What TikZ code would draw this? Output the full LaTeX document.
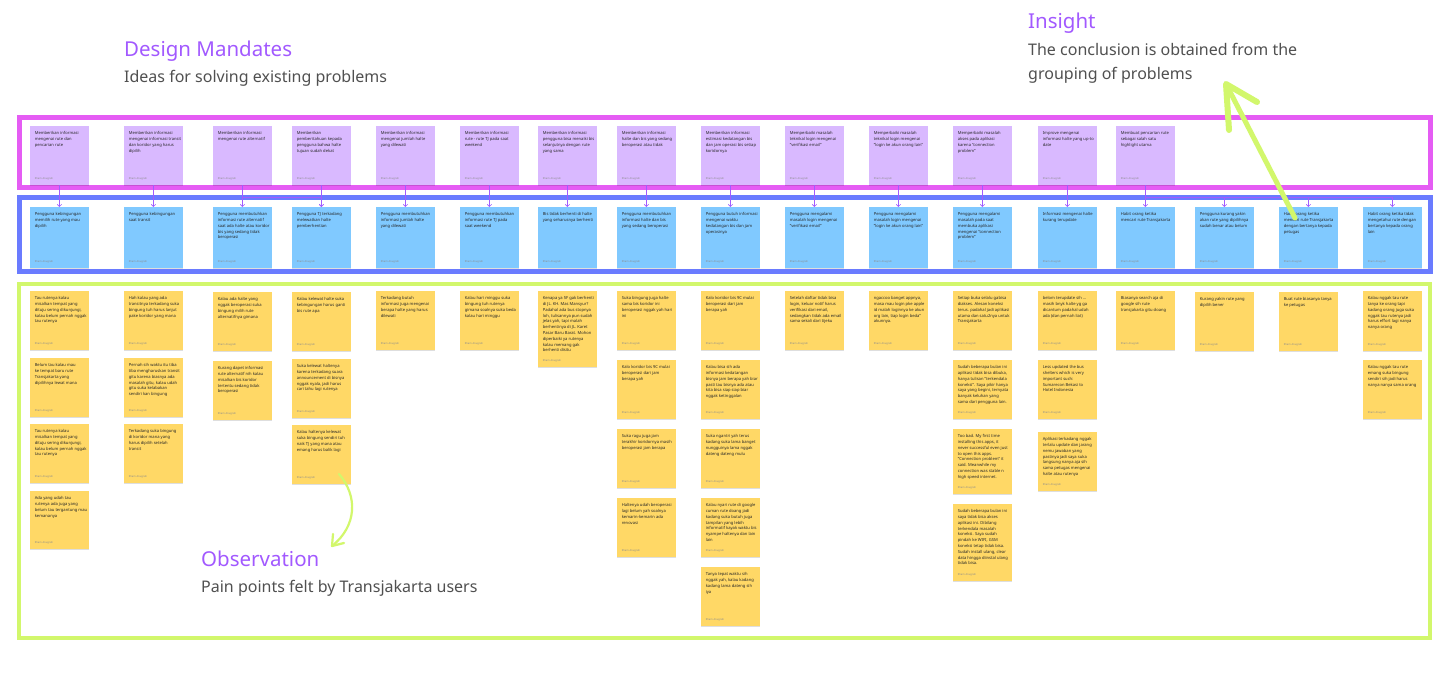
\documentclass[tikz,border=0pt]{standalone}
\usepackage{fontspec}
\setmainfont{Noto Sans}
\usetikzlibrary{arrows.meta,shadows,calc}
\definecolor{magcol}{HTML}{E55CF4}
\definecolor{bluecol}{HTML}{6A7BFF}
\definecolor{limecol}{HTML}{D2F76C}
\definecolor{pfill}{HTML}{D9B9FF}
\definecolor{bfill}{HTML}{80C9FF}
\definecolor{yfill}{HTML}{FFD866}
\definecolor{titlecol}{HTML}{A259FF}
\definecolor{subcol}{HTML}{505050}
\definecolor{conncol}{HTML}{A05CFF}
\tikzset{
  note/.style={draw=none, inner sep=0pt, minimum width=58.5pt, anchor=north west,
    drop shadow={shadow xshift=0pt, shadow yshift=-0.7pt, opacity=0.13, fill=black}},
  pnote/.style={note, fill=pfill},
  bnote/.style={note, fill=bfill},
  ynote/.style={note, fill=yfill},
  notetext/.style={inner sep=0pt, align=left, font=\fontsize{4.1}{5.8}\selectfont, text=black!85, anchor=north west},
  noteauthor/.style={inner sep=0pt, font=\fontsize{2.6}{3}\selectfont, text=black!45, anchor=west},
  conn/.style={draw=conncol, line width=0.6pt, -{Straight Barb[length=2.2pt,width=4.4pt]}},
  frame/.style={line width=5pt},
  title/.style={font=\bfseries\fontsize{20.5}{24}\selectfont, text=titlecol, anchor=base west, inner sep=0pt},
  sub/.style={font=\fontsize{16}{20}\selectfont, text=subcol, anchor=base west, inner sep=0pt},
  lime/.style={draw=limecol, line cap=round, line join=round},
}
% #1 name, #2 style, #3 x, #4 y, #5 height, #6 text
\newcommand\snote[6]{%
  \node[#2, minimum height=#5pt] (#1) at (#3,#4) {};
  \node[notetext] (#1t) at ([xshift=4.6pt,yshift=-5.4pt]#1.north west) {#6};
  \node[noteauthor] (#1a) at ([xshift=4.6pt,yshift=7pt]#1.south west) {Ilham Anugrah};
}
\begin{document}
\begin{tikzpicture}[x=1pt,y=-1pt]
\useasboundingbox (0,0) rectangle (1440,674);
\fill[white] (0,0) rectangle (1440,674);

% headings
\node[title] (dmt) at (124,57) {Design Mandates};
\node[sub] (dms) at (124,83) {Ideas for solving existing problems};
\node[title] (int) at (1028,29) {Insight};
\node[sub] (ins1) at (1028,56) {The conclusion is obtained from the};
\node[sub] (ins2) at (1028,80) {grouping of problems};
\node[title] (obt) at (201,566) {Observation};
\node[sub] (obs) at (201,592) {Pain points felt by Transjakarta users};

% frames
\draw[frame, magcol] (19,118) rectangle (1430,187);
\draw[frame, bluecol] (19,197) rectangle (1430,271);
\draw[line width=4pt, limecol] (19,284) rectangle (1430,638);

% purple notes
\snote{p1}{pnote}{30}{126}{59}{Memberikan informasi\\mengenai rute dan\\pencarian rute}
\snote{p2}{pnote}{124}{126}{59}{Memberikan informasi\\mengenai informasi transit\\dan koridor yang harus\\dipilih}
\snote{p3}{pnote}{213}{126}{59}{Memberikan informasi\\mengenai rute alternatif}
\snote{p4}{pnote}{292}{126}{59}{Memberikan\\pemberitahuan kepada\\pengguna bahwa halte\\tujuan sudah dekat}
\snote{p5}{pnote}{376}{126}{59}{Memberikan informasi\\mengenai jumlah halte\\yang dilewati}
\snote{p6}{pnote}{460}{126}{59}{Memberikan informasi\\rute - rute TJ pada saat\\weekend}
\snote{p7}{pnote}{538}{126}{59}{Memberikan informasi\\pengguna bisa menaiki bis\\selanjutnya dengan rute\\yang sama}
\snote{p8}{pnote}{617}{126}{59}{Memberikan informasi\\halte dan bis yang sedang\\beroperasi atau tidak}
\snote{p9}{pnote}{701}{126}{59}{Memberikan informasi\\estimasi kedatangan bis\\dan jam operasi bis setiap\\koridornya}
\snote{p10}{pnote}{785}{126}{59}{Memperbaiki masalah\\teknikal login mengenai\\"verifikasi email"}
\snote{p11}{pnote}{869}{126}{59}{Memperbaiki masalah\\teknikal login mengenai\\"login ke akun orang lain"}
\snote{p12}{pnote}{953}{126}{59}{Memperbaiki masalah\\akses pada aplikasi\\karena "connection\\problem"}
\snote{p13}{pnote}{1038}{126}{59}{Improve mengenai\\informasi halte yang up-to\\date}
\snote{p14}{pnote}{1116}{126}{59}{Membuat pencarian rute\\sebagai salah satu\\highlight utama}

% blue notes
\snote{b1}{bnote}{30}{207}{61}{Pengguna kebingungan\\memilih rute yang mau\\dipilih}
\snote{b2}{bnote}{124}{207}{61}{Pengguna kebingungan\\saat transit}
\snote{b3}{bnote}{213}{207}{61}{Pengguna membutuhkan\\informasi rute alternatif\\saat ada halte atau koridor\\bis yang sedang tidak\\beroperasi}
\snote{b4}{bnote}{292}{207}{61}{Pengguna TJ terkadang\\melewatkan halte\\pemberhentian}
\snote{b5}{bnote}{376}{207}{61}{Pengguna membutuhkan\\informasi jumlah halte\\yang dilewati}
\snote{b6}{bnote}{460}{207}{61}{Pengguna membutuhkan\\informasi rute TJ pada\\saat weekend}
\snote{b7}{bnote}{538}{207}{61}{Bis tidak berhenti di halte\\yang seharusnya berhenti}
\snote{b8}{bnote}{617}{207}{61}{Pengguna membutuhkan\\informasi halte dan bis\\yang sedang beroperasi}
\snote{b9}{bnote}{701}{207}{61}{Pengguna butuh informasi\\mengenai waktu\\kedatangan bis dan jam\\operasinya}
\snote{b10}{bnote}{785}{207}{61}{Pengguna mengalami\\masalah login mengenai\\"verifikasi email"}
\snote{b11}{bnote}{869}{207}{61}{Pengguna mengalami\\masalah login mengenai\\"login ke akun orang lain"}
\snote{b12}{bnote}{953}{207}{61}{Pengguna mengalami\\masalah pada saat\\membuka aplikasi\\mengenai "connection\\problem"}
\snote{b13}{bnote}{1038}{207}{61}{Informasi mengenai halte\\kurang terupdate}
\snote{b14}{bnote}{1116}{207}{61}{Habit orang ketika\\mencari rute Transjakarta}
\snote{b15}{bnote}{1195}{207}{61}{Pengguna kurang yakin\\akan rute yang dipilihnya\\sudah benar atau belum}
\snote{b16}{bnote}{1279}{207}{61}{Habit orang ketika\\mencari rute Transjakarta\\dengan bertanya kepada\\petugas}
\snote{b17}{bnote}{1363}{207}{61}{Habit orang ketika tidak\\mengetahui rute dengan\\bertanya kepada orang\\lain}

% connectors
\foreach \i in {1,...,14} { \draw[conn] (p\i.south) -- (b\i.north); }
\draw[conn] (p3.south) -- ++(0,12) -| (b4.north);
\draw[conn] (p14.south) -- ++(0,12) -| (b15.north);
\draw[conn] (p14.south) -- ++(0,12) -| (b16.north);
\draw[conn] (p14.south) -- ++(0,12) -| (b17.north);

% yellow notes
\snote{y1a}{ynote}{30}{291}{59}{Tau rutenya kalau\\misalkan tempat yang\\dituju sering dikunjungi,\\kalau belum pernah nggak\\tau rutenya}
\snote{y1b}{ynote}{30}{358}{59}{Belum tau kalau mau\\ke tempat baru rute\\Transjakarta yang\\dipilihnya lewat mana}
\snote{y1c}{ynote}{30}{424}{59}{Tau rutenya kalau\\misalkan tempat yang\\dituju sering dikunjungi,\\kalau belum pernah nggak\\tau rutenya}
\snote{y1d}{ynote}{30}{491}{58}{Ada yang udah tau\\rutenya ada juga yang\\belum tau tergantung mau\\kemananya}
\snote{y2a}{ynote}{124}{291}{59}{Hah kalau yang ada\\transitnya terkadang suka\\bingung tuh harus lanjut\\pake koridor yang mana}
\snote{y2b}{ynote}{124}{358}{59}{Pernah sih waktu itu tiba\\tiba mengharuskan transit\\gitu karena biasnya ada\\masalah gitu, kalau udah\\gitu suka kelabakan\\sendiri kan bingung}
\snote{y2c}{ynote}{124}{424}{59}{Terkadang suka bingung\\di koridor mana yang\\harus dipilih setelah\\transit}
\snote{y3a}{ynote}{213}{292}{59}{Kalau ada halte yang\\nggak beroperasi suka\\bingung milih rute\\alternatifnya gimana}
\snote{y3b}{ynote}{213}{361}{59}{Kurang dapet informasi\\rute alternatif nih kalau\\misalkan bis koridor\\tertentu sedang tidak\\beroperasi}
\snote{y4a}{ynote}{292}{292}{59}{Kalau kelewat halte suka\\kebingungan harus ganti\\bis rute apa}
\snote{y4b}{ynote}{292}{359}{59}{Suka kelewat haltenya\\karena terkadang suara\\announcement di bisnya\\nggak nyala, jadi harus\\cari tahu lagi rutenya}
\snote{y4c}{ynote}{292}{425}{59}{Kalau haltenya kelewat\\suka bingung sendiri tuh\\naik TJ yang mana atau\\emang harus balik lagi}
\snote{y5}{ynote}{376}{291}{59}{Terkadang butuh\\informasi juga mengenai\\berapa halte yang harus\\dilewati}
\snote{y6}{ynote}{460}{291}{59}{Kalau hari minggu suka\\bingung tuh rutenya\\gimana soalnya suka beda\\kalau hari minggu}
\snote{y7}{ynote}{538}{291}{76}{Kenapa ya 5F gak berhenti\\di JL. KH. Mas Mansyur?\\Padahal ada bus stopnya\\loh, tulisannya pun sudah\\jelas yah, tapi malah\\berhentinya di JL. Karet\\Pasar Baru Barat. Mohon\\diperbaiki ya rutenya\\kalau memang gak\\berhenti disitu}
\snote{y8a}{ynote}{617}{291}{59}{Suka bingung juga halte\\sama bis koridor ini\\beroperasi nggak yah hari\\ini}
\snote{y8b}{ynote}{617}{360}{59}{Kalo koridor bis 9C mulai\\beroperasi dari jam\\berapa yah}
\snote{y8c}{ynote}{617}{429}{59}{Suka ragu juga jam\\terakhir koridornya masih\\beroperasi jam berapa}
\snote{y8d}{ynote}{617}{498}{59}{Haltenya udah beroperasi\\lagi belum yah soalnya\\kemarin-kemarin ada\\renovasi}
\snote{y9a}{ynote}{701}{291}{59}{Kalo koridor bis 9C mulai\\beroperasi dari jam\\berapa yah}
\snote{y9b}{ynote}{701}{360}{59}{Kalau bisa sih ada\\informasi kedatangan\\bisnya jam berapa yah biar\\pasti tau bisnya ada atau\\kita bisa siap siap biar\\nggak ketinggalan}
\snote{y9c}{ynote}{701}{429}{59}{Suka ngantri yah terus\\kadang suka lama banget\\nungguinya lama nggak\\dateng dateng mulu}
\snote{y9d}{ynote}{701}{498}{59}{Kalau nyari rute di google\\cuman rute doang jadi\\kadang suka butuh juga\\tampilan yang lebih\\informatif kayak waktu bis\\nyampe haltenya dan lain\\lain}
\snote{y9e}{ynote}{701}{567}{59}{Tanya tepat waktu sih\\nggak yah, kalau kadang\\kadang lama dateng sih\\iya}
\snote{y10}{ynote}{785}{291}{59}{Setelah daftar tidak bisa\\login, keluar notif harus\\verifikasi dari email,\\sedangkan tidak ada email\\sama sekali dari tijeku}
\snote{y11}{ynote}{869}{291}{59}{ngaccoo banget appnya,\\masa mau login pke apple\\id malah loginnya ke akun\\org lain, tiap login beda"\\akunnya.}
\snote{y12a}{ynote}{953}{291}{59}{Setiap buka selalu gabisa\\diakses. Alesan koneksi\\terus. padahal jadi aplikasi\\utama dan satu2nya untuk\\Transjakarta}
\snote{y12b}{ynote}{953}{360}{59}{Sudah beberapa bulan ini\\aplikasi tidak bisa dibuka,\\hanya tulisan "terkendala\\koneksi". Saya pikir hanya\\saya yang begini, ternyata\\banyak keluhan yang\\sama dari pengguna lain.}
\snote{y12c}{ynote}{953}{429}{65}{Too bad. My first time\\installing this apps, it\\never successful even just\\to open this apps.\\"Connection problem" it\\said. Meanwhile my\\connection was stable n\\high speed internet.}
\snote{y12d}{ynote}{953}{504}{77}{Sudah beberapa bulan ini\\saya tidak bisa akses\\aplikasi ini. Dibilang\\terkendala masalah\\koneksi. Saya sudah\\pindah ke WIFI, GSM\\koneksi tetap tidak bisa.\\Sudah install ulang, clear\\data hingga diinstal ulang\\tidak bisa.}
\snote{y13a}{ynote}{1038}{291}{59}{belom terupdate sih ...\\masih bnyk halte yg ga\\dicantum padahal udah\\ada (dan pernah liat)}
\snote{y13b}{ynote}{1038}{360}{59}{Less updated the bus\\shelters which is very\\important such:\\Sumarecon Bekasi to\\Hotel Indonesia}
\snote{y13c}{ynote}{1038}{432}{59}{Aplikasi terkadang nggak\\terlalu update dan jarang\\nemu jawaban yang\\pastinya jadi saya suka\\langsung nanya aja sih\\sama petugas mengenai\\halte atau rutenya}
\snote{y14}{ynote}{1116}{291}{59}{Biasanya search aja di\\google sih rute\\transjakarta gitu doang}
\snote{y15}{ynote}{1195}{292}{59}{Kurang yakin rute yang\\dipilih bener}
\snote{y16}{ynote}{1279}{292}{59}{Buat rute biasanya tanya\\ke petugas}
\snote{y17a}{ynote}{1363}{291}{60}{Kalau nggak tau rute\\tanya ke orang tapi\\kadang orang juga suka\\nggak tau rutenya jadi\\harus effort lagi nanya\\nanya orang}
\snote{y17b}{ynote}{1363}{360}{59}{Kalau nggak tau rute\\emang suka bingung\\sendiri sih jadi harus\\nanya nanya sama orang}

% lime arrows
\coordinate (ia0) at (1295,218);
\coordinate (iatip) at (1226,84);
\draw[lime, line width=5pt] (ia0) -- (iatip);
\draw[lime, line width=6pt] (1229,130) -- (iatip) -- (1257,102);
\coordinate (oa0) at (339,474);
\coordinate (oatip) at (332,546);
\draw[lime, line width=2.2pt] (oa0) .. controls (358,496) and (357,526) .. (oatip);
\draw[lime, line width=2.2pt] (333,534) -- (oatip) -- (344,543);
\end{tikzpicture}
\end{document}
